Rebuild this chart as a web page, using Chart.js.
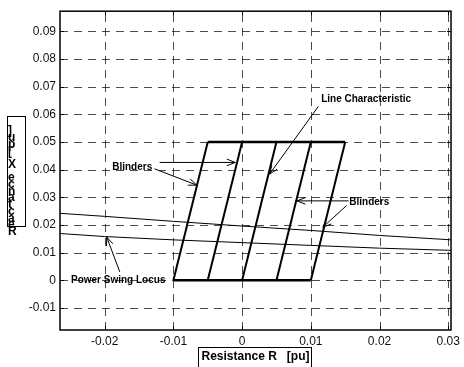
<!DOCTYPE html>
<html>
<head>
<meta charset="utf-8">
<script src="https://cdn.jsdelivr.net/npm/chart.js@4/dist/chart.umd.min.js"></script>
<style>
  html, body { margin: 0; padding: 0; background: #fff; }
</style>
</head>
<body>
<canvas id="myChart" width="464" height="367"></canvas>
<script>
// resistance R [pu] on x, reactance X [pu] on y
const R_TICKS = [-0.02, -0.01, 0, 0.01, 0.02, 0.03];
const X_TICKS = [-0.01, 0, 0.01, 0.02, 0.03, 0.04, 0.05, 0.06, 0.07, 0.08, 0.09];
const R_RANGE = [-0.0265, 0.0304];
const X_RANGE = [-0.018, 0.0973];

// blinders: each one runs from (bottom R, 0) to (top R, 0.05)
const BLINDER_BOTTOM_R = [-0.01, -0.005, 0, 0.005, 0.01];
const BLINDER_TOP_R = [-0.005, 0, 0.005, 0.01, 0.015];
const BLINDER_X = [0, 0.05];

// power swing locus, two traces
const SWING_R = [-0.0265, -0.02, -0.01, 0, 0.01, 0.02, 0.0305];
const SWING_UPPER_X = [0.0242, 0.0231, 0.0213, 0.0196, 0.0180, 0.0162, 0.0146];
const SWING_LOWER_X = [0.0169, 0.0158, 0.0146, 0.0136, 0.0126, 0.0116, 0.0108];

// text labels {text, r, x} (left edge, middle)
const LABELS = [
  {text: 'Line Characteristic', r: 0.0115, x: 0.0654},
  {text: 'Blinders', r: -0.0189, x: 0.0408},
  {text: 'Blinders', r: 0.0156, x: 0.0282},
  {text: 'Power Swing Locus', r: -0.0249, x: 0}
];
// arrows [r from, x from, r to, x to], head at "to"
const ARROWS = [
  [0.0111, 0.0629, 0.0040, 0.0384],
  [-0.0120, 0.0426, -0.0010, 0.0426],
  [-0.01275, 0.0403, -0.0066, 0.0344],
  [0.0155, 0.0287, 0.0080, 0.0287],
  [0.0152, 0.0270, 0.01175, 0.0192],
  [-0.0178, 0.0030, -0.0197, 0.0156]
];

const X_TITLE = 'Resistance R   [pu]';
const Y_TITLE = 'Reactance X [pu]';

/*----------------------------------------------*/
let lineSet = (points, width) => {
  return {
    data: points,
    showLine: true,
    borderColor: '#000',
    backgroundColor: '#000',
    borderWidth: width,
    pointRadius: 0,
    tension: 0
  };
};

let datasets = [];
for (let i = 0; i < BLINDER_BOTTOM_R.length; i ++) {
  datasets.push(lineSet([
    {x: BLINDER_BOTTOM_R[i], y: BLINDER_X[0]},
    {x: BLINDER_TOP_R[i], y: BLINDER_X[1]}
  ], 2));
}
datasets.push(lineSet([
  {x: BLINDER_BOTTOM_R[0], y: BLINDER_X[0]},
  {x: BLINDER_BOTTOM_R[BLINDER_BOTTOM_R.length - 1], y: BLINDER_X[0]}
], 2.5));
datasets.push(lineSet([
  {x: BLINDER_TOP_R[0], y: BLINDER_X[1]},
  {x: BLINDER_TOP_R[BLINDER_TOP_R.length - 1], y: BLINDER_X[1]}
], 2.5));
datasets.push(lineSet(SWING_R.map((r, i) => ({x: r, y: SWING_UPPER_X[i]})), 1));
datasets.push(lineSet(SWING_R.map((r, i) => ({x: r, y: SWING_LOWER_X[i]})), 1));

let fmt = (v) => String(Math.round(v * 100) / 100);

let drawArrow = (ctx, x1, y1, x2, y2) => {
  let a = Math.atan2(y2 - y1, x2 - x1);
  let len = 9, spread = 0.38;
  ctx.beginPath();
  ctx.moveTo(x1, y1);
  ctx.lineTo(x2, y2);
  ctx.moveTo(x2 - len * Math.cos(a - spread), y2 - len * Math.sin(a - spread));
  ctx.lineTo(x2, y2);
  ctx.lineTo(x2 - len * Math.cos(a + spread), y2 - len * Math.sin(a + spread));
  ctx.stroke();
};

// dashed grid, drawn under the lines
const dashedGrid = {
  id: 'dashedGrid',
  beforeDatasetsDraw(chart) {
    let ctx = chart.ctx;
    let xs = chart.scales.x, ys = chart.scales.y;
    let area = chart.chartArea;
    ctx.save();
    ctx.strokeStyle = 'rgba(0,0,0,0.7)';
    ctx.lineWidth = 1;
    ctx.setLineDash([8, 6]);
    R_TICKS.forEach((v) => {
      let p = Math.round(xs.getPixelForValue(v)) + 0.5;
      ctx.beginPath();
      ctx.moveTo(p, area.bottom);
      ctx.lineTo(p, area.top);
      ctx.stroke();
    });
    X_TICKS.forEach((v) => {
      let p = Math.round(ys.getPixelForValue(v)) + 0.5;
      ctx.beginPath();
      ctx.moveTo(area.left, p);
      ctx.lineTo(area.right, p);
      ctx.stroke();
    });
    ctx.restore();
  }
};

const decorations = {
  id: 'decorations',
  afterDraw(chart) {
    let ctx = chart.ctx;
    let xs = chart.scales.x, ys = chart.scales.y;
    let area = chart.chartArea;
    ctx.save();

    // inward ticks
    ctx.strokeStyle = '#000';
    ctx.lineWidth = 1;
    ctx.beginPath();
    R_TICKS.forEach((v) => {
      let p = Math.round(xs.getPixelForValue(v)) + 0.5;
      ctx.moveTo(p, area.bottom); ctx.lineTo(p, area.bottom - 4);
      ctx.moveTo(p, area.top); ctx.lineTo(p, area.top + 4);
    });
    X_TICKS.forEach((v) => {
      let p = Math.round(ys.getPixelForValue(v)) + 0.5;
      ctx.moveTo(area.left, p); ctx.lineTo(area.left + 4, p);
      ctx.moveTo(area.right, p); ctx.lineTo(area.right - 4, p);
    });
    ctx.stroke();

    // frame
    ctx.lineWidth = 1.5;
    ctx.strokeRect(area.left, area.top, area.right - area.left, area.bottom - area.top);

    // arrows
    ctx.lineWidth = 1;
    ARROWS.forEach((a) => {
      drawArrow(ctx,
        xs.getPixelForValue(a[0]), ys.getPixelForValue(a[1]),
        xs.getPixelForValue(a[2]), ys.getPixelForValue(a[3]));
    });

    // labels
    ctx.fillStyle = '#000';
    ctx.font = 'bold 10px "Liberation Sans", Arial, sans-serif';
    ctx.textAlign = 'left';
    ctx.textBaseline = 'middle';
    LABELS.forEach((l) => {
      ctx.fillText(l.text, xs.getPixelForValue(l.r), ys.getPixelForValue(l.x));
    });

    // x title in a box
    let cx = (area.left + area.right) / 2;
    ctx.font = 'bold 12px "Liberation Sans", Arial, sans-serif';
    ctx.textAlign = 'center';
    let w = ctx.measureText(X_TITLE).width;
    let ty = area.bottom + 27;
    ctx.fillText(X_TITLE, cx, ty);
    ctx.strokeRect(Math.round(cx - w / 2 - 3) + 0.5, Math.round(ty - 10) + 0.5, Math.round(w + 5), 40);

    // y title: letters stacked upright, bottom to top, in a box
    let cy = (area.top + area.bottom) / 2;
    ctx.strokeRect(7.5, Math.round(cy - 55) + 0.5, 18, 110);
    ctx.font = 'bold 12px "Liberation Sans", Arial, sans-serif';
    ctx.textAlign = 'left';
    for (let i = 0; i < Y_TITLE.length; i ++) {
      ctx.fillText(Y_TITLE[i], 8, cy + 61 - i * 6.7);
    }

    ctx.restore();
  }
};

new Chart(document.getElementById('myChart'), {
  type: 'scatter',
  data: {datasets: datasets},
  plugins: [dashedGrid, decorations],
  options: {
    responsive: false,
    animation: false,
    events: [],
    layout: {padding: {left: 0, top: 9, right: 7, bottom: 0}},
    plugins: {legend: {display: false}, tooltip: {enabled: false}},
    scales: {
      x: {
        type: 'linear',
        min: R_RANGE[0],
        max: R_RANGE[1],
        afterBuildTicks: (s) => { s.ticks = R_TICKS.map((v) => ({value: v})); },
        afterFit: (s) => { s.height = 37; },
        border: {display: false},
        grid: {display: false, drawTicks: false},
        ticks: {
          padding: 4,
          maxRotation: 0,
          autoSkip: false,
          color: '#111',
          font: {family: '"Liberation Sans", Arial, sans-serif', size: 12},
          callback: (v) => fmt(v)
        }
      },
      y: {
        type: 'linear',
        min: X_RANGE[0],
        max: X_RANGE[1],
        afterBuildTicks: (s) => { s.ticks = X_TICKS.map((v) => ({value: v})); },
        afterFit: (s) => { s.width = 60; },
        border: {display: false},
        grid: {display: false, drawTicks: false},
        ticks: {
          padding: 4,
          autoSkip: false,
          color: '#111',
          font: {family: '"Liberation Sans", Arial, sans-serif', size: 12},
          callback: (v) => fmt(v)
        }
      }
    }
  }
});
</script>
</body>
</html>
